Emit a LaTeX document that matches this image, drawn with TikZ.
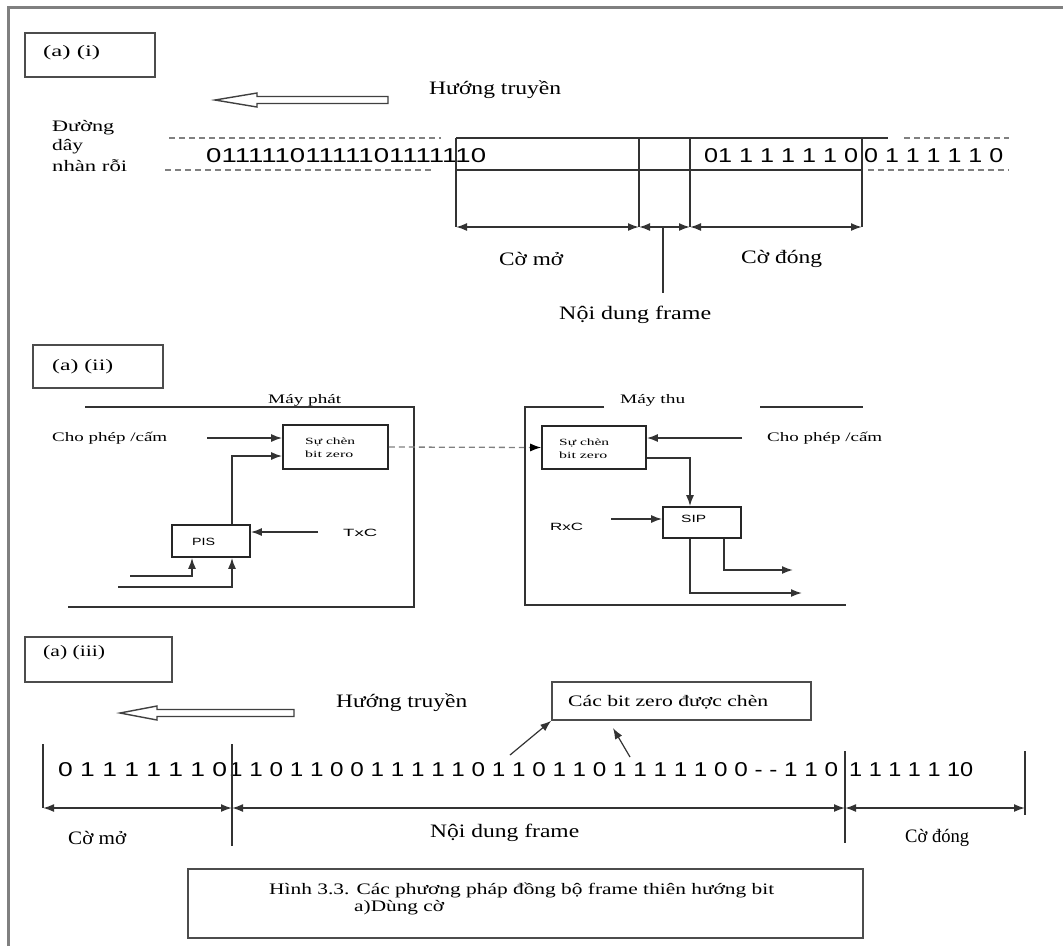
\documentclass[tikz,border=0pt]{standalone}
\usepackage{fontspec}
\setmainfont{Liberation Serif}
\newfontfamily\sansdig{Liberation Sans}
\usepackage{graphicx}
\usetikzlibrary{arrows.meta,calc}
\newcommand{\fitw}[2]{\resizebox{#1pt}{\height}{#2}}
\begin{document}
\begin{tikzpicture}[x=1pt,y=-1pt,
  txt/.style={inner sep=0pt, anchor=west, font=\fontsize{19}{22}\selectfont},
  mdtxt/.style={inner sep=0pt, anchor=west, font=\fontsize{16}{19}\selectfont},
  smtxt/.style={inner sep=0pt, anchor=west, font=\fontsize{13}{15}\selectfont},
  tinytxt/.style={inner sep=0pt, anchor=west, font=\fontsize{9.5}{11}\selectfont},
  sanstxt/.style={inner sep=0pt, anchor=west, font=\sansdig\fontsize{10.5}{12}\selectfont},
  bits/.style={inner sep=0pt, anchor=west, font=\sansdig\fontsize{20}{24}\selectfont},
  ln/.style={line width=1.7pt, draw=black!80},
  arr/.style={ln, -{Latex[length=11pt,width=8pt]}},
  thinarr/.style={line width=1.2pt, draw=black!80, -{Latex[length=11pt,width=8pt]}},
  darr/.style={ln, {Latex[length=11pt,width=8pt]}-{Latex[length=11pt,width=8pt]}},
  dsh/.style={line width=1.3pt, draw=black!50, dash pattern=on 6pt off 4pt},
  tagbox/.style={draw=black!70, line width=1.6pt, inner sep=0pt},
  blk/.style={draw=black!85, line width=1.6pt, inner sep=0pt},
  hollow/.style={draw=black!75, line width=1.4pt, fill=white},
]
\useasboundingbox (0,0) rectangle (1063,946);
\fill[white] (0,0) rectangle (1063,946);
% outer frame
\coordinate (fbl) at (8.5,946); \coordinate (ftl) at (8.5,7); \coordinate (ftr) at (1063,7);
\draw[line width=3pt, draw=black!50] (fbl) -- (ftl) -- (ftr);

%%%%%%%%%%%% (a)(i)
\node[tagbox, minimum width=130, minimum height=44] (bi) at (90,55) {};
\node[mdtxt] (ti) at (43,53) {\fitw{57}{(a) (i)}};
\draw[hollow] (215,100) -- (257,93) -- (257,96.5) -- (388,96.5) -- (388,103.5) -- (257,103.5) -- (257,107) -- cycle;
\node[txt] (hti) at (429,90) {\fitw{132}{Hướng truyền}};
\node[mdtxt] (d1) at (52,128) {\fitw{62}{Đường}};
\node[mdtxt] (d2) at (52,147) {\fitw{31}{dây}};
\node[mdtxt] (d3) at (52,166) {\fitw{75}{nhàn rỗi}};
% dashed idle line
\coordinate (u0) at (169,138); \coordinate (u1) at (441,138);
\coordinate (w0) at (165,170); \coordinate (w1) at (432,170);
\draw[dsh] (u0) -- (u1); \draw[dsh] (w0) -- (w1);
\coordinate (u2) at (904,138); \coordinate (u3) at (1009,138);
\coordinate (w2) at (868,170); \coordinate (w3) at (1009,170);
\draw[dsh] (u2) -- (u3); \draw[dsh] (w2) -- (w3);
% bits
\node[bits] (bi1) at (206,156) {\fitw{280}{01111101111101111110}};
\node[bits] (bi2) at (704,156) {\fitw{154}{01 1 1 1 1 1 0}};
\node[bits] (bi3) at (864,156) {\fitw{139}{0 1 1 1 1 1 0}};
% frame lines
\coordinate (A0) at (456,138); \coordinate (A1) at (639,138);
\coordinate (A2) at (690,138); \coordinate (A3) at (862,138);
\coordinate (Atop) at (888,138);
\coordinate (L0) at (456,170); \coordinate (L3) at (862,170);
\coordinate (B0) at (456,227); \coordinate (B1) at (639,227);
\coordinate (B2) at (690,227); \coordinate (B3) at (862,227);
\draw[ln] (A0) -- (Atop);
\draw[ln] (L0) -- (L3);
\foreach \i in {0,1,2,3} { \draw[ln] (A\i) -- (B\i); }
\draw[darr] (B0) -- (B1);
\draw[darr] (B1) -- (B2);
\draw[darr] (B2) -- (B3);
\coordinate (P0) at (663,227); \coordinate (P1) at (663,293);
\draw[ln] (P0) -- (P1);
\node[txt] (cm1) at (499,259) {\fitw{64}{Cờ mở}};
\node[txt] (cd1) at (741,259) {\fitw{81}{Cờ đóng}};
\node[txt] (nd1) at (559,315) {\fitw{152}{Nội dung frame}};

%%%%%%%%%%%% (a)(ii)
\node[tagbox, minimum width=130, minimum height=43] (bii) at (98,366.5) {};
\node[mdtxt] (tii) at (52,367) {\fitw{61}{(a) (ii)}};
% transmitter frame
\coordinate (t0) at (85,407); \coordinate (t1) at (414,407);
\coordinate (t2) at (414,607); \coordinate (t3) at (68,607);
\draw[ln] (t0) -- (t1) -- (t2) -- (t3);
\node[smtxt, fill=white, inner xsep=1pt] (mp) at (267,400) {\fitw{73}{Máy phát}};
\node[blk, minimum width=105, minimum height=44] (tx) at (335.5,447) {};
\node[tinytxt] (tx1) at (305,442) {\fitw{50}{Sự chèn}};
\node[tinytxt] (tx2) at (305,454) {\fitw{48}{bit zero}};
\node[smtxt] (cpl) at (52,438) {\fitw{115}{Cho phép /cấm}};
\coordinate (cplA) at (207,438);
\draw[arr] (cplA) -- ($(tx.west)+(0,-9)$);
\node[blk, minimum width=78, minimum height=32] (pis) at (211,541) {};
\node[sanstxt] (pist) at (192,542) {\fitw{23}{PIS}};
\draw[arr] ($(pis.north)+(21,0)$) |- ($(tx.west)+(0,9)$);
\node[sanstxt] (txc) at (343,533) {\fitw{34}{TxC}};
\coordinate (txcA) at (318,532);
\draw[arr] (txcA) -- (pis.east |- txcA);
\coordinate (in1) at (130,576); \coordinate (in2) at (118,587);
\draw[arr] (in1) -| ($(pis.south)+(-19,0)$);
\draw[arr] (in2) -| ($(pis.south)+(21,0)$);
% receiver
\node[blk, minimum width=104, minimum height=43] (rx) at (594,447.5) {};
\node[tinytxt] (rx1) at (559,443) {\fitw{50}{Sự chèn}};
\node[tinytxt] (rx2) at (559,455) {\fitw{48}{bit zero}};
\draw[dsh, -{Latex[length=11pt,width=8pt,black]}] (tx.east) -- (rx.west);
\coordinate (r0) at (604,407); \coordinate (r1) at (525,407);
\coordinate (r2) at (525,605); \coordinate (r3) at (846,605);
\coordinate (r4) at (760,407); \coordinate (r5) at (863,407);
\draw[ln] (r0) -- (r1) -- (r2) -- (r3);
\draw[ln] (r4) -- (r5);
\node[smtxt] (mt) at (620,400) {\fitw{65}{Máy thu}};
\node[smtxt] (cpr) at (767,438) {\fitw{115}{Cho phép /cấm}};
\coordinate (cprA) at (742,438);
\draw[arr] (cprA) -- (rx.east |- cprA);
\node[blk, minimum width=78, minimum height=31] (sip) at (702,522.5) {};
\node[sanstxt] (sipt) at (681,519) {\fitw{25}{SIP}};
\draw[arr] ($(rx.east)+(0,10.5)$) -| ($(sip.north)+(-12,0)$);
\node[sanstxt] (rxc) at (550,527) {\fitw{33}{RxC}};
\coordinate (rxcA) at (611,519);
\draw[arr] (rxcA) -- (sip.west |- rxcA);
\coordinate (o1) at (793,570); \coordinate (o2) at (802,593);
\draw[arr] ($(sip.south)+(22,0)$) |- (o1);
\draw[arr] ($(sip.south)+(-12,0)$) |- (o2);

%%%%%%%%%%%% (a)(iii)
\node[tagbox, minimum width=147, minimum height=45] (biii) at (98.5,659.5) {};
\node[mdtxt] (tiii) at (43,653) {\fitw{62}{(a) (iii)}};
\draw[hollow] (120,713) -- (157,706) -- (157,709.5) -- (294,709.5) -- (294,716.5) -- (157,716.5) -- (157,720) -- cycle;
\node[txt] (htiii) at (336,703) {\fitw{131}{Hướng truyền}};
\node[draw=black!70, line width=1.6pt, minimum width=259, minimum height=38] (cb) at (681.5,701) {};
\node[mdtxt] (cbt) at (568,702) {\fitw{200}{Các bit zero được chèn}};
\node[bits] (ba) at (58,770) {\fitw{169}{0 1 1 1 1 1 1 0}};
\node[bits] (bb) at (229,770) {\fitw{609}{1 1 0 1 1 0 0 1 1 1 1 1 0 1 1 0 1 1 0 1 1 1 1 1 0 0 - - 1 1 0}};
\node[bits] (bc) at (849,770) {\fitw{124}{1 1 1 1 1 10}};
\coordinate (s1) at (510,755); \coordinate (s2) at (630,757); \coordinate (s2t) at (613,728);
\draw[thinarr] (s1) -- (cb.south west);
\draw[thinarr] (s2) -- (s2t);
\coordinate (V0t) at (43,744); \coordinate (V0b) at (43,808);
\coordinate (V1t) at (232,744); \coordinate (V1b) at (232,846);
\coordinate (V2t) at (845,751); \coordinate (V2b) at (845,843);
\coordinate (V3t) at (1025,751); \coordinate (V3b) at (1025,815);
\draw[ln] (V0t) -- (V0b); \draw[ln] (V1t) -- (V1b);
\draw[ln] (V2t) -- (V2b); \draw[ln] (V3t) -- (V3b);
\coordinate (H0) at (43,808); \coordinate (H1) at (232,808);
\coordinate (H2) at (845,808); \coordinate (H3) at (1025,808);
\draw[darr] (H0) -- (H1);
\draw[darr] (H1) -- (H2);
\draw[darr] (H2) -- (H3);
\node[txt] (cm3) at (68,838) {\fitw{58}{Cờ mở}};
\node[txt] (nd3) at (430,833) {\fitw{149}{Nội dung frame}};
\node[txt] (cd3) at (905,838) {\fitw{64}{Cờ đóng}};
% caption
\node[draw=black!70, line width=1.6pt, minimum width=675, minimum height=69] (cap) at (525.5,903.5) {};
\node[mdtxt] (cap1) at (269,890) {\fitw{505}{Hình 3.3. Các phương pháp đồng bộ frame thiên hướng bit}};
\node[mdtxt] (cap2) at (354,908) {\fitw{90}{a)Dùng cờ}};
\end{tikzpicture}
\end{document}
